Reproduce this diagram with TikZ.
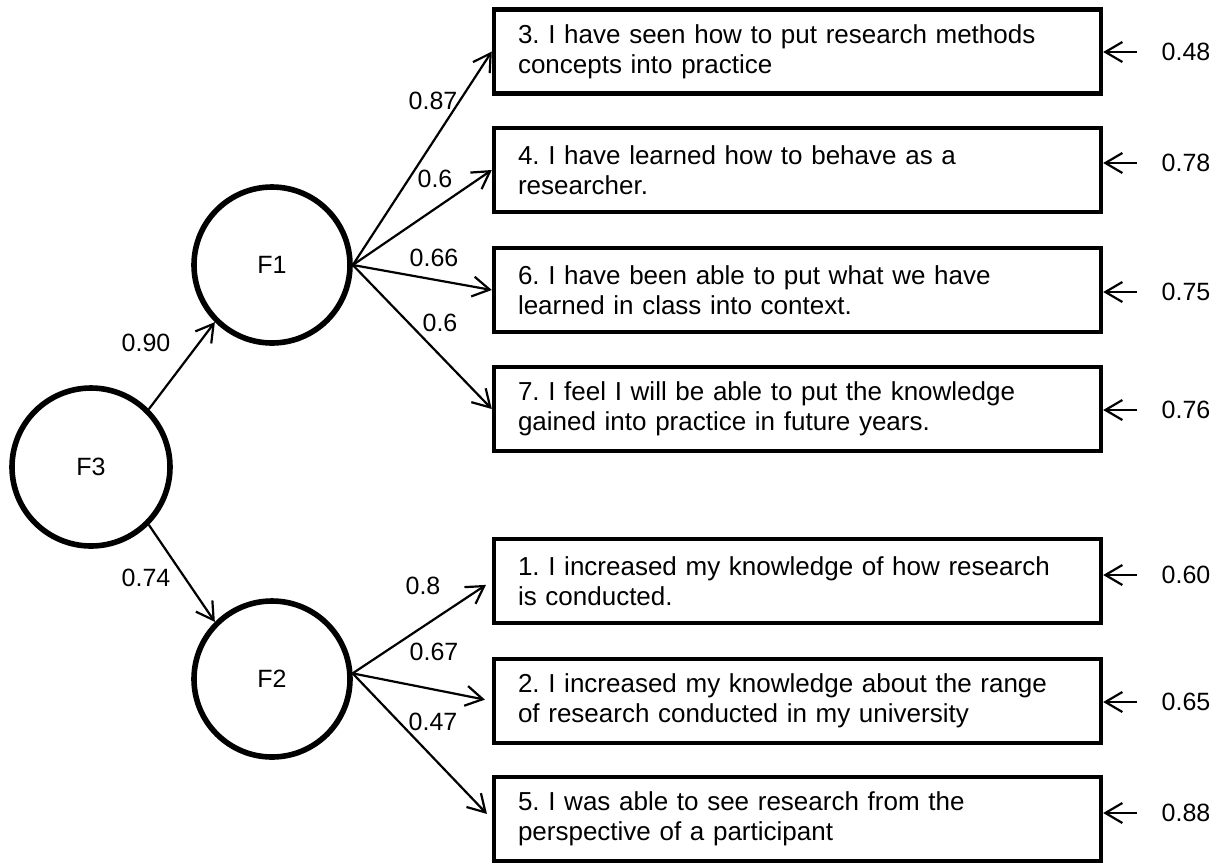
\documentclass[tikz,border=0pt]{standalone}
\usepackage{fontspec}
\setmainfont{Liberation Sans}
\usepackage{tikz}
\usetikzlibrary{arrows.meta,positioning}
\frenchspacing
\tikzstyle{latent} = [draw, circle, line width=2.8pt, inner sep=0pt, minimum size=78pt, font=\fontsize{12.5}{15}\selectfont]
\tikzstyle{itembox} = [draw, rectangle, line width=2.2pt, text width=279.5pt, inner xsep=12pt, inner ysep=2pt, minimum height=42pt, align=left, font=\fontsize{13}{15}\selectfont]
\tikzstyle{coef} = [inner sep=0pt, font=\fontsize{12.5}{15}\selectfont]
\tikzstyle{loading} = [-{Straight Barb[length=8.5pt,width=10pt,line width=1.1pt]}, line width=1.1pt]

\begin{document}
\begin{tikzpicture}[x=0.5pt, y=-0.5pt]
	\useasboundingbox (0,0) rectangle (1221,863);
	% factors
	\node[latent] (f1) at (272,265) {F1};
	\node[latent] (f2) at (272,679) {F2};
	\node[latent, minimum size=79pt] (f3) at (91,467) {F3};
	% items
	\node[itembox] (b3) at (797.5,51.5) {3. I have seen how to put research methods\\concepts into practice};
	\node[itembox] (b4) at (797.5,170) {4. I have learned how to behave as a\\researcher.};
	\node[itembox] (b6) at (797.5,290) {6. I have been able to put what we have\\learned in class into context.};
	\node[itembox] (b7) at (797.5,409) {7. I feel I will be able to put the knowledge\\gained into practice in future years.};
	\node[itembox] (b1) at (797.5,581) {1. I increased my knowledge of how research\\is conducted.};
	\node[itembox] (b2) at (797.5,701) {2. I increased my knowledge about the range\\of research conducted in my university};
	\node[itembox] (b5) at (797.5,819) {5. I was able to see research from the\\perspective of a participant};
	% second order loadings
	\draw[loading] (f3.45) -- (f1.225);
	\draw[loading] (f3.-45) -- (f2.135);
	\node[coef] (l90) at (146,343) {0.90};
	\node[coef] (l74) at (146,578) {0.74};
	% first order loadings
	\draw[loading] (f1.east) -- (b3.west);
	\draw[loading] (f1.east) -- (b4.west);
	\draw[loading] (f1.east) -- (b6.west);
	\draw[loading] (f1.east) -- (b7.west);
	\draw[loading, shorten >=3.5pt] (f2.4) -- (b1.west);
	\draw[loading, shorten >=3.5pt] (f2.4) -- (b2.west);
	\draw[loading, shorten >=3.5pt] (f2.4) -- (b5.west);
	\node[coef] (l87) at (433,101) {0.87};
	\node[coef] (l60a) at (435,179) {0.6};
	\node[coef] (l66) at (434,258) {0.66};
	\node[coef] (l60b) at (440,323) {0.6};
	\node[coef] (l80) at (423,586) {0.8};
	\node[coef] (l67) at (434,652) {0.67};
	\node[coef] (l47) at (433,722) {0.47};
	% error terms
	\node[coef] (e3) at (1186,52) {0.48};
	\node[coef] (e4) at (1186,163) {0.78};
	\node[coef] (e6) at (1186,292) {0.75};
	\node[coef] (e7) at (1186,410) {0.76};
	\node[coef] (e1) at (1186,575) {0.60};
	\node[coef] (e2) at (1186,702) {0.65};
	\node[coef] (e5) at (1186,813) {0.88};
	\foreach \i in {3,4,6,7,1,2,5}
		\draw[loading, shorten <=12pt] (e\i.west) -- (b\i.east |- e\i);
\end{tikzpicture}
\end{document}
